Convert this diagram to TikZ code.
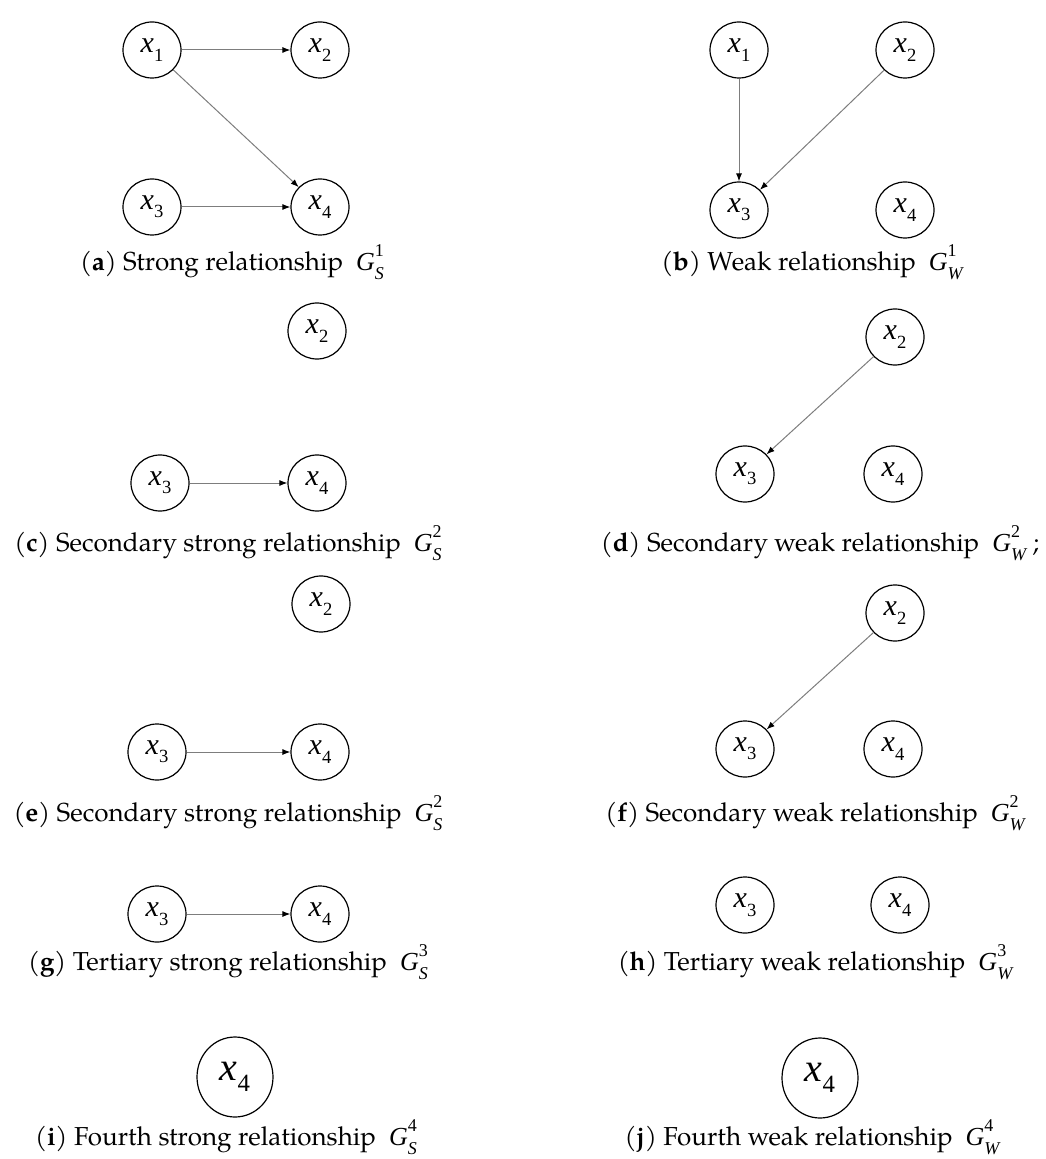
\documentclass[tikz,border=0pt]{standalone}
\usepackage{fontspec}
\setmainfont{TeX Gyre Pagella}
\newfontfamily\tms{Liberation Serif}
\usetikzlibrary{shapes.geometric,arrows.meta}
\definecolor{edgegray}{RGB}{125,125,125}

% variable x_k and graph G^k_S in Times
\newcommand\vx[1]{{\tms\itshape x}\raisebox{-0.28em}{\tms\fontsize{0.62em}{1em}\selectfont #1}}
\newcommand\gr[2]{{\tms\itshape G}\makebox[0pt][l]{\raisebox{0.55em}{\tms\fontsize{9}{9}\selectfont #2}}\raisebox{-0.32em}{\tms\itshape\fontsize{9}{9}\selectfont #1}}

\tikzset{
    vnode/.style={draw,ellipse,line width=0.6pt,inner sep=0pt,minimum width=29pt,minimum height=28pt,font=\fontsize{15}{17}\selectfont},
    bignode/.style={vnode,minimum width=38pt,minimum height=40pt,font=\fontsize{20}{22}\selectfont},
    caption/.style={font=\fontsize{13}{15}\selectfont},
    rel/.style={->,edgegray,line width=0.5pt}
}

\begin{document}
\begin{tikzpicture}[x=0.5pt,y=-0.5pt,>={Latex[length=4pt,width=3pt,color=black]}]
        \useasboundingbox (0,0) rectangle (1045,1159);
        % nodes of all panels
        \foreach \n/\x/\y/\k in {a1/152/50/1,a2/320/50/2,a3/152/207/3,a4/320/207/4,
            b1/739/50/1,b2/905/50/2,b3/739/210/3,b4/905/210/4,
            c2/317/331/2,c3/160/483/3,c4/317/483/4,
            d2/895/337/2,d3/745/474/3,d4/893/474/4,
            e2/321/604/2,e3/157/752/3,e4/320/752/4,
            f2/895/613/2,f3/745/749/3,f4/893/749/4,
            g3/157/914/3,g4/320/914/4,
            h3/745/905/3,h4/900/905/4}
        {
            \node[vnode] (\n) at (\x,\y) {\vx{\k}};
        }
        \node[bignode] (i4) at (235,1077) {\vx{4}};
        \node[bignode] (j4) at (820,1078) {\vx{4}};
        % relations
        \draw[rel] (a1)--(a2);
        \draw[rel] (a1)--(a4);
        \draw[rel] (a3)--(a4);
        \draw[rel] (b1)--(b3);
        \draw[rel] (b2)--(b3);
        \draw[rel] (c3)--(c4);
        \draw[rel] (d2)--(d3);
        \draw[rel] (e3)--(e4);
        \draw[rel] (f2)--(f3);
        \draw[rel] (g3)--(g4);
        % captions
        \node[caption] (capa) at (232,262) {(\textbf{a}) Strong relationship\hspace{0.5em}\gr{S}{1}};
        \node[caption] (capb) at (812,262) {(\textbf{b}) Weak relationship\hspace{0.5em}\gr{W}{1}};
        \node[caption] (capc) at (228,543) {(\textbf{c}) Secondary strong relationship\hspace{0.5em}\gr{S}{2}};
        \node[caption] (capd) at (820,543) {(\textbf{d}) Secondary weak relationship\hspace{0.5em}\gr{W}{2} ;};
        \node[caption] (cape) at (228,813) {(\textbf{e}) Secondary strong relationship\hspace{0.5em}\gr{S}{2}};
        \node[caption] (capf) at (815,813) {(\textbf{f}) Secondary weak relationship\hspace{0.5em}\gr{W}{2}};
        \node[caption] (capg) at (228,962) {(\textbf{g}) Tertiary strong relationship\hspace{0.5em}\gr{S}{3}};
        \node[caption] (caph) at (815,962) {(\textbf{h}) Tertiary weak relationship\hspace{0.5em}\gr{W}{3}};
        \node[caption] (capi) at (226,1137) {(\textbf{i}) Fourth strong relationship\hspace{0.5em}\gr{S}{4}};
        \node[caption] (capj) at (812,1137) {(\textbf{j}) Fourth weak relationship\hspace{0.5em}\gr{W}{4}};
    \end{tikzpicture}
\end{document}
